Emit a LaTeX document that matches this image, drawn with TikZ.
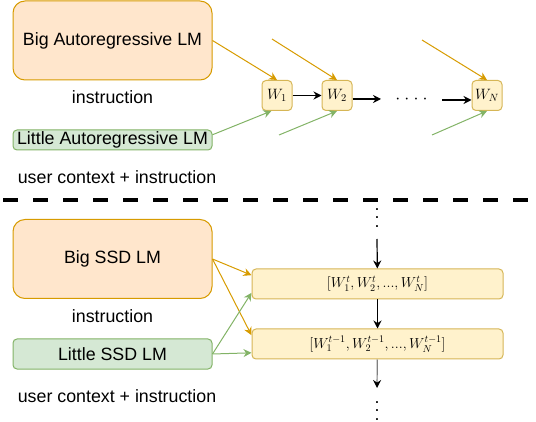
\documentclass[tikz,border=0pt]{standalone}
\usepackage{fix-cm}
\usepackage[no-math]{fontspec}
\setmainfont{Liberation Sans}
\usepackage{amsmath}
\usepackage{xcolor}
\usepackage{tikz}
\usetikzlibrary{
    arrows.meta,
    positioning
}
\definecolor{orangefill}{HTML}{FFE6CC}
\definecolor{orangeline}{HTML}{D79B00}
\definecolor{greenfill}{HTML}{D5E8D4}
\definecolor{greenline}{HTML}{82B366}
\definecolor{yellowfill}{HTML}{FFF2CC}
\definecolor{yellowline}{HTML}{D6B656}
\tikzstyle{bigbox} = [
    draw=orangeline,
    fill=orangefill,
    line width=1pt,
    rounded corners=12pt,
    minimum width=199pt,
    minimum height=79pt,
    inner sep=0pt
]
\tikzstyle{littlebox} = [
    draw=greenline,
    fill=greenfill,
    line width=1pt,
    rounded corners=4pt,
    minimum width=199pt,
    minimum height=20pt,
    inner sep=0pt
]
\tikzstyle{tokbox} = [
    draw=yellowline,
    fill=yellowfill,
    line width=1pt,
    rounded corners=4pt,
    minimum size=30pt,
    inner sep=0pt,
    font=\fontsize{15}{17}\selectfont
]
\tikzstyle{seqbox} = [
    tokbox,
    minimum width=251pt,
    font=\fontsize{14.5}{17}\selectfont
]
\tikzstyle{vdotsnode} = [
    align=center,
    inner sep=0pt,
    font=\fontsize{17.8}{8.5}\selectfont
]
\tikzstyle{arrow} = [
    line width=1.2pt,
    -{Stealth[length=8pt,width=8pt]}
]
\tikzstyle{bigarrow} = [arrow, line width=1pt, orangeline]
\tikzstyle{littlearrow} = [arrow, line width=1pt, greenline]

\begin{document}
\begin{tikzpicture}[x=1pt, y=-1pt, font=\fontsize{17.8}{21}\selectfont]
\useasboundingbox (0,0) rectangle (536,422);

% autoregressive decoding
\node[bigbox]    (bigar)    at (112.5,40.5) {Big Autoregressive LM};
\node            (instrar)  at (112.5,97)   {instruction};
\node[littlebox] (littlear) at (112.5,140)  {Little Autoregressive LM};
\node            (ctxar)    at (117,177)    {user context + instruction};

\node[tokbox] (w1) at (277,95.5) {$W_1$};
\node[tokbox] (w2) at (337,95.5) {$W_2$};
\node[tokbox] (wn) at (487,95.5) {$W_N$};
\node (hdots) at (411.5,99.5) {$\cdot$\hspace{4.1pt}$\cdot$\hspace{4.1pt}$\cdot$\hspace{4.1pt}$\cdot$};

\coordinate (o2) at (272,39);
\coordinate (o3) at (422,40);
\coordinate (g2) at (279,135);
\coordinate (g3) at (432,135);
\coordinate (w2out) at (381,99);
\coordinate (wnin)  at (442,100);

\draw[bigarrow] (bigar.east) -- (w1.north);
\draw[bigarrow] (o2) -- (w2.north);
\draw[bigarrow] (o3) -- (wn.north);
\draw[littlearrow] (littlear.3) -- (w1.250);
\draw[littlearrow] (g2) -- (w2.south);
\draw[littlearrow] (g3) -- (wn.south);
\draw[arrow] (w1) -- (w2);
\draw[arrow] (w2.east |- w2out) -- (w2out);
\draw[arrow] (wnin) -- (wn.west |- wnin);

% separator
\coordinate (sepl) at (3,200);
\coordinate (sepr) at (536,200);
\draw[line width=3.5pt, dash pattern=on 15pt off 15pt] (sepl) -- (sepr);

% speculative decoding
\node[bigbox]    (bigssd)    at (112.5,259)  {Big SSD LM};
\node            (instrssd)  at (112.5,316.5) {instruction};
\node[littlebox, minimum height=30pt] (littlessd) at (112.5,354) {Little SSD LM};
\node            (ctxssd)    at (117,396.5)  {user context + instruction};

\node[seqbox] (wt)  at (377.5,284) {$[W_1^t, W_2^t, ..., W_N^t]$};
\node[seqbox] (wtm) at (377.5,344) {$[W_1^{t-1}, W_2^{t-1}, ..., W_N^{t-1}]$};
\node[vdotsnode] (vtop) at (377,218) {.\\.\\.};
\node[vdotsnode] (vbot) at (377,411) {.\\.\\.};
\coordinate (vtopout) at (377,239);
\coordinate (vbotin)  at (377,388);

\draw[arrow] (vtopout) -- (wt);
\draw[arrow] (wt) -- (wtm);
\draw[arrow, gray, -{Stealth[length=8pt,width=8pt,black]}] (wtm) -- (vbotin);
\draw[bigarrow] (bigssd.east) -- (wt.176);
\draw[bigarrow] (bigssd.east) -- (wtm.176);
\draw[littlearrow] (littlessd.east) -- (wt.184);
\draw[littlearrow] (littlessd.east) -- (wtm.184);
\end{tikzpicture}
\end{document}
